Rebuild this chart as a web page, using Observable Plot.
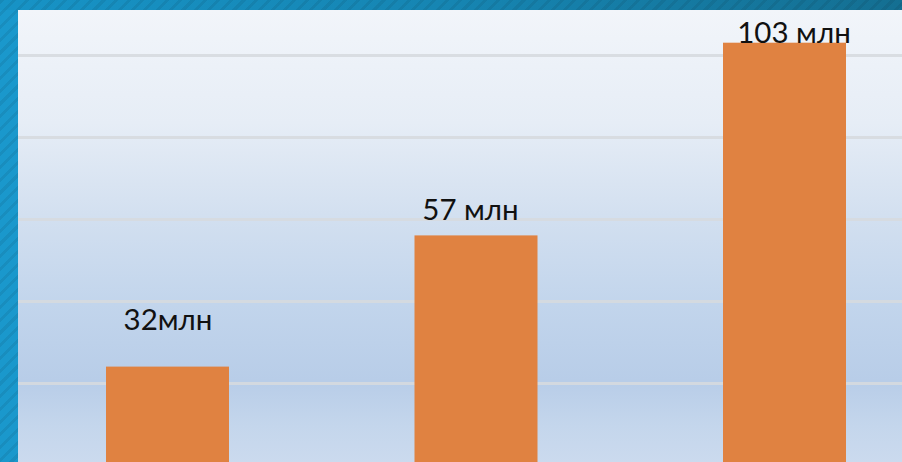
<!DOCTYPE html>
<html>
<head>
<meta charset="utf-8">
<script src="https://cdn.jsdelivr.net/npm/d3@7"></script>
<script src="https://cdn.jsdelivr.net/npm/@observablehq/plot@0.6"></script>
<style>
  html, body { margin: 0; padding: 0; width: 902px; height: 462px; overflow: hidden; }
  body {
    position: relative;
    background-color: #1a98cc;
    background-image:
      repeating-linear-gradient(135deg, rgba(0,0,0,0.07) 0px, rgba(0,0,0,0.07) 3px, rgba(0,0,0,0) 3px, rgba(0,0,0,0) 9px);
  }
  #topband {
    position: absolute; left: 0; top: 0; width: 902px; height: 10px;
    background-image:
      repeating-linear-gradient(135deg, rgba(0,0,0,0.07) 0px, rgba(0,0,0,0.07) 3px, rgba(0,0,0,0) 3px, rgba(0,0,0,0) 9px),
      linear-gradient(90deg, #1793c6 0%, #1685b2 50%, #146f92 100%);
  }
  #panel {
    position: absolute; left: 18px; top: 10px; width: 884px; height: 452px;
    background: linear-gradient(180deg, #f2f5fa 0%, #e6edf6 25%, #d3e0f0 45%, #c2d5ec 65%, #b8cde8 82%, #c4d6ec 92%, #cbdaee 100%);
  }
  #panel svg { display: block; overflow: visible; background: transparent; }
</style>
</head>
<body>
<div id="topband"></div>
<div id="panel"></div>
<script>
const categories = ["A", "B", "C"];
const barHeights = [24, 56, 103];
const labels = ["32млн", "57 млн", "103 млн"];
const labelY = [33, 60, 103];
const gridTicks = [20, 40, 60, 80, 100];

const data = categories.map((c, i) => ({cat: c, h: barHeights[i], label: labels[i], ly: labelY[i]}));

const labelShift = [0, -6, 9];
const textMarks = data.map((d, i) => Plot.text([d], {
  x: "cat", y: "ly", text: "label",
  textAnchor: "middle", lineAnchor: "bottom", dx: labelShift[i],
  fontFamily: "Lato", fontSize: 29.5, fill: "#111111"
}));

const chart = Plot.plot({
  width: 884,
  height: 452,
  marginLeft: 0,
  marginRight: 0,
  marginTop: 4,
  marginBottom: -3,
  style: {background: "transparent", overflow: "visible"},
  x: {domain: categories, range: [88, 828], paddingInner: 0.6013, paddingOuter: 0, round: false, axis: null},
  y: {domain: [0, 110], axis: null},
  marks: [
    Plot.ruleY(gridTicks, {stroke: "#d6dadf", strokeWidth: 3, strokeOpacity: 0.9}),
    Plot.barY(data, {x: "cat", y: "h", fill: "#e08241", inset: 0}),
    ...textMarks
  ]
});
document.getElementById("panel").appendChild(chart);
</script>
</body>
</html>
